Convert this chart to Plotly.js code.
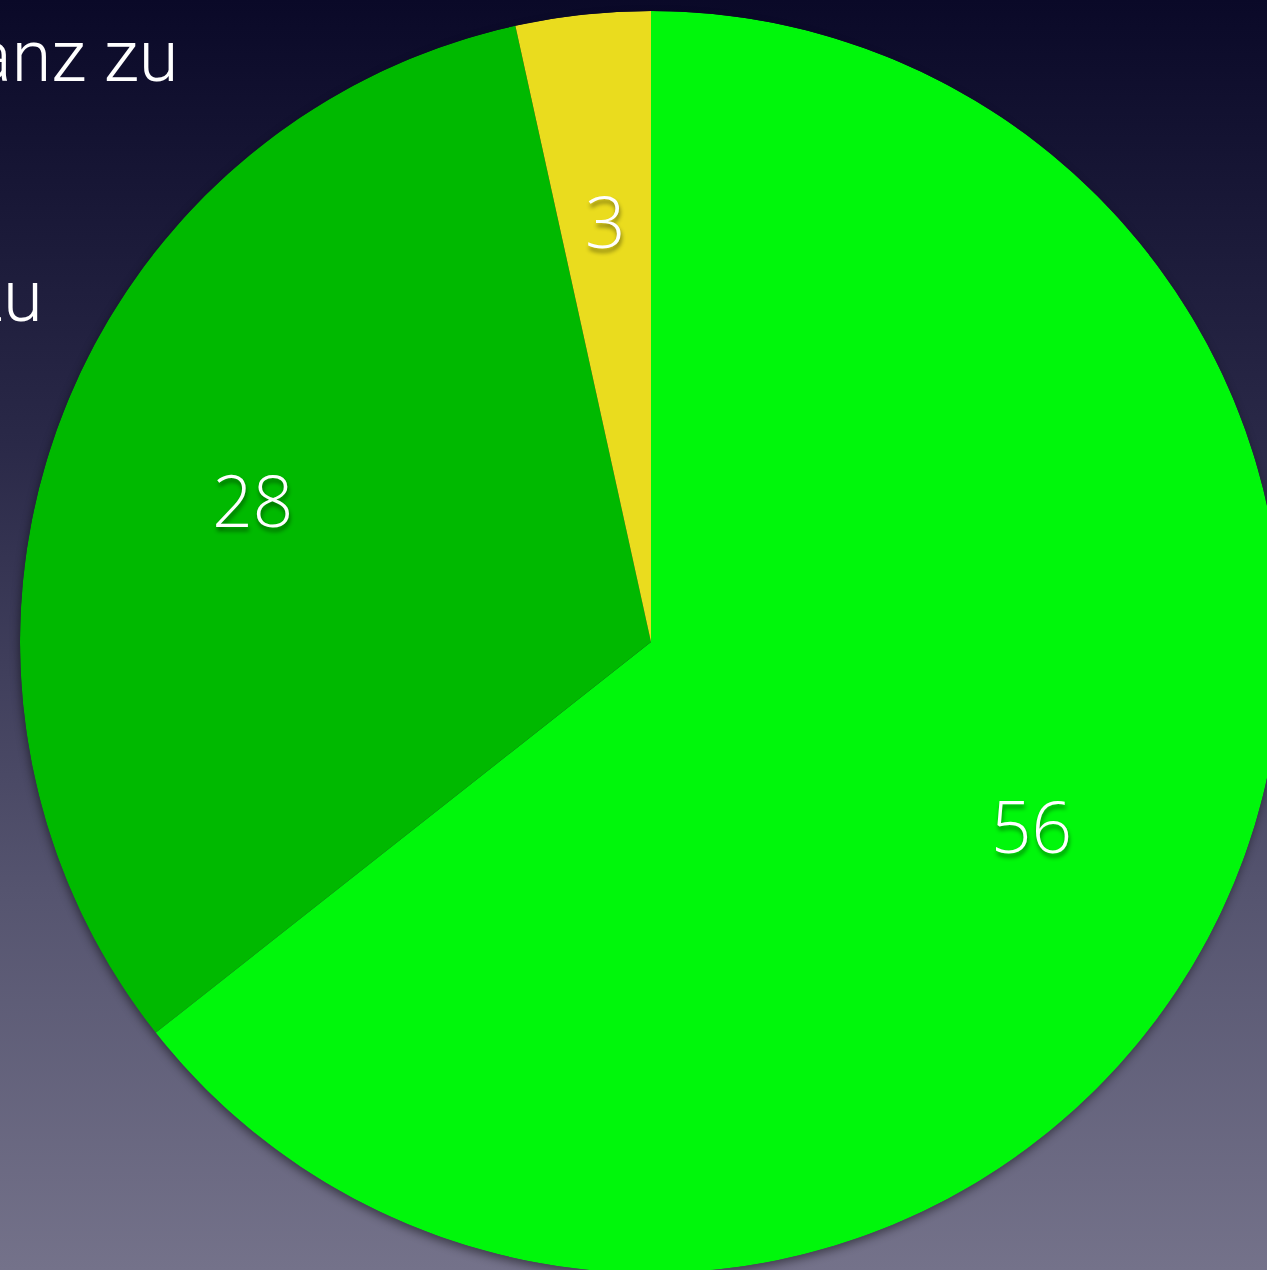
<!DOCTYPE html>
<html>
<head>
<meta charset="utf-8">
<script src="https://cdn.plot.ly/plotly-3.0.1.min.js"></script>
<style>
  html, body { margin: 0; padding: 0; width: 1267px; height: 1270px; overflow: hidden; }
  body { background: linear-gradient(to bottom, #0a0928 0%, #2a2948 35%, #55546f 70%, #74728a 100%); }
  #chart { position: absolute; left: 0; top: 0; }
  .polarlayer .barlayer { filter: drop-shadow(-1px 4px 5px rgba(0,0,0,0.45)); }
  .polarlayer .textpoint text { transform: translateY(9px); }
</style>
</head>
<body>
<div id="chart"></div>
<script>
// Data
const categories = ["trifft ganz zu", "trifft zu", "trifft nicht zu"];
const values = [56, 28, 3];
const sliceColors = ["#00F70B", "#00B900", "#EADC1E"];
const legendLabels = ["trifft ganz zu", "trifft zu"];

// slice geometry (clockwise from 12 o'clock), derived from the values
const total = values.reduce((a, b) => a + b, 0);
const spans = values.map(v => v / total * 360);
let acc = 0;
const midAngles = spans.map(s => { const m = acc + s / 2; acc += s; return m; });

const numFont = { family: "'Open Sans', Roboto, sans-serif", size: 71, color: "#ffffff", weight: 350,
                  shadow: "1px 4px 4px rgba(0,0,0,0.45)" };
const legFont = { family: "Roboto, 'Liberation Sans', sans-serif", size: 72, color: "#ffffff", weight: 300 };

const sliceTrace = {
  type: "barpolar",
  r: values.map(() => 1),
  theta: midAngles,
  width: spans,
  text: categories,
  marker: { color: sliceColors, line: { width: 0 } },
  hoverinfo: "none",
  showlegend: false
};

const labelTrace = {
  type: "scatterpolar",
  mode: "text",
  r: values.map(() => 0.67),
  theta: midAngles,
  text: values.map(String),
  textposition: "middle center",
  textfont: numFont,
  hoverinfo: "none",
  showlegend: false
};

const layout = {
  width: 1302,
  height: 1284,
  margin: { l: 20, r: 20, t: 11, b: 11, pad: 0 },
  paper_bgcolor: "rgba(0,0,0,0)",
  plot_bgcolor: "rgba(0,0,0,0)",
  showlegend: false,
  polar: {
    domain: { x: [0, 1], y: [0, 1] },
    bgcolor: "rgba(0,0,0,0)",
    bargap: 0,
    radialaxis: { range: [0, 1], visible: false, showgrid: false },
    angularaxis: { rotation: 90, direction: "clockwise", visible: false, showgrid: false }
  },
  annotations: [
    { text: legendLabels[0], xref: "paper", yref: "paper", x: 0.1268, y: 0.9636,
      xanchor: "right", yanchor: "middle", showarrow: false, font: legFont },
    { text: legendLabels[1], xref: "paper", yref: "paper", x: 0.0198, y: 0.7734,
      xanchor: "right", yanchor: "middle", showarrow: false, font: legFont }
  ]
};

Plotly.newPlot("chart", [sliceTrace, labelTrace], layout, { displayModeBar: false, staticPlot: true });
</script>
</body>
</html>
